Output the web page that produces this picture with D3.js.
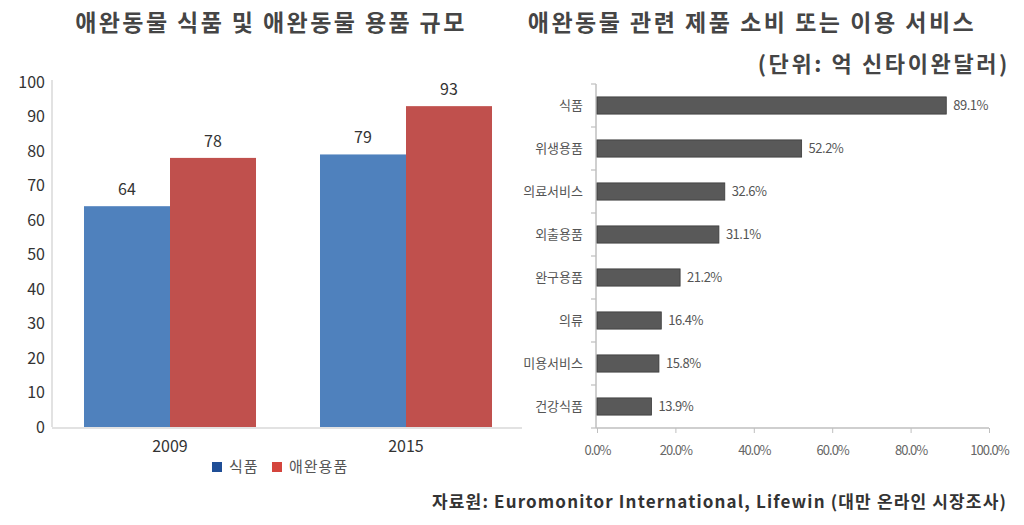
<!DOCTYPE html>
<html><head><meta charset="utf-8">
<script src="https://cdn.jsdelivr.net/npm/d3@7"></script>
<style>
html,body{margin:0;padding:0;background:#fff;}
svg{display:block;font-family:"Noto Sans CJK KR","Noto Sans",sans-serif;}
</style></head>
<body><svg id="c" width="1024" height="525"></svg>
<script>
// Left chart data
const years = ["2009", "2015"];
const seriesNames = ["식품", "애완용품"];
const foodValues = [64, 79];
const suppliesValues = [78, 93];
const leftTicks = [0, 10, 20, 30, 40, 50, 60, 70, 80, 90, 100];

// Right chart data
const categories = ["식품", "위생용품", "의료서비스", "외출용품", "완구용품", "의류", "미용서비스", "건강식품"];
const shares = [89.1, 52.2, 32.6, 31.1, 21.2, 16.4, 15.8, 13.9];
const rightTicks = [0, 20, 40, 60, 80, 100];

const titleLeft = "애완동물 식품 및 애완동물 용품 규모";
const titleRight = "애완동물 관련 제품 소비 또는 이용 서비스";
const unitText = "(단위: 억 신타이완달러)";
const sourceText = "자료원: Euromonitor International, Lifewin (대만 온라인 시장조사)";

const svg = d3.select("#c");
const colors = ["#4F81BD", "#C0504D"];
const legendColors = ["#1F4E96", "#D4453D"];

// Titles
svg.append("text").attr("x", 271).attr("y", 31).attr("text-anchor", "middle")
  .attr("font-size", 23).attr("letter-spacing", 2.4).attr("font-weight", "bold").attr("fill", "#454545").text(titleLeft);
svg.append("text").attr("x", 752).attr("y", 31).attr("text-anchor", "middle")
  .attr("font-size", 23).attr("letter-spacing", 2.5).attr("font-weight", "bold").attr("fill", "#454545").text(titleRight);
svg.append("text").attr("x", 1010).attr("y", 72).attr("text-anchor", "end")
  .attr("font-size", 22).attr("letter-spacing", 2.6).attr("font-weight", "bold").attr("fill", "#454545").text(unitText);
svg.append("text").attr("x", 1007).attr("y", 508).attr("text-anchor", "end")
  .attr("font-size", 17).attr("font-weight", "bold").attr("letter-spacing", 1.15)
  .attr("fill", "#333").text(sourceText);

// ---------- Left chart ----------
const y = d3.scaleLinear().domain([0, 100]).range([427, 82]);
const x0 = d3.scaleBand().domain(years).range([52, 524]).paddingInner(0).paddingOuter(0);
const x1 = d3.scaleBand().domain(seriesNames).range([0, x0.bandwidth()]).paddingInner(0).paddingOuter(0.372);

const gl = svg.append("g");
gl.append("line").attr("x1", 52).attr("x2", 52).attr("y1", 80).attr("y2", 427)
  .attr("stroke", "#d9d9d9").attr("stroke-width", 1.5);
gl.selectAll("text.yt").data(leftTicks).join("text").attr("class", "yt")
  .attr("x", 45).attr("y", d => y(d)).attr("dy", "0.35em").attr("text-anchor", "end")
  .attr("font-size", 16).attr("fill", "#333").text(d => d);

const rows = years.map((yr, i) => ({ yr, vals: [foodValues[i], suppliesValues[i]] }));
const grp = gl.selectAll("g.yr").data(rows).join("g").attr("transform", d => `translate(${x0(d.yr)},0)`);
grp.selectAll("rect").data(d => d.vals.map((v, j) => ({ v, s: seriesNames[j], j })))
  .join("rect")
  .attr("x", d => x1(d.s)).attr("width", x1.bandwidth())
  .attr("y", d => y(d.v)).attr("height", d => y(0) - y(d.v))
  .attr("fill", d => colors[d.j]);
grp.selectAll("text").data(d => d.vals.map((v, j) => ({ v, s: seriesNames[j] })))
  .join("text")
  .attr("x", d => x1(d.s) + x1.bandwidth() / 2).attr("y", d => y(d.v) - 17).attr("dy", "0.35em")
  .attr("text-anchor", "middle").attr("font-size", 16).attr("fill", "#333").text(d => d.v);

gl.append("line").attr("x1", 52).attr("x2", 522).attr("y1", 428).attr("y2", 428)
  .attr("stroke", "#d9d9d9").attr("stroke-width", 1.5);
gl.selectAll("text.xt").data(years).join("text").attr("class", "xt")
  .attr("x", d => x0(d) + x0.bandwidth() / 2).attr("y", 446).attr("dy", "0.35em")
  .attr("text-anchor", "middle").attr("font-size", 16).attr("fill", "#333").text(d => d);

// legend
const legX = [212, 272];
const lg = gl.selectAll("g.leg").data(seriesNames).join("g").attr("class", "leg")
  .attr("transform", (d, i) => `translate(${legX[i]},467)`);
lg.append("rect").attr("x", 0).attr("y", -5).attr("width", 10).attr("height", 10)
  .attr("fill", (d, i) => legendColors[i]);
lg.append("text").attr("x", 17).attr("y", 0).attr("dy", "0.35em")
  .attr("font-size", 15).attr("letter-spacing", 1).attr("fill", "#555").text(d => d);

// ---------- Right chart ----------
const xr = d3.scaleLinear().domain([0, 100]).range([597, 989]);
const yr = d3.scaleBand().domain(categories).range([84, 428]).paddingInner(0.6).paddingOuter(0.3);
const gr = svg.append("g");
const axisColor = "#bfbfbf";

const xAxis = d3.axisBottom(xr).tickValues(rightTicks).tickSize(5).tickFormat(d => d.toFixed(1) + "%");
const gx = gr.append("g").attr("transform", "translate(0,428)").call(xAxis);
gx.select(".domain").attr("stroke", axisColor).attr("stroke-width", 1.5).attr("d", "M596,0H989");
gx.selectAll(".tick line").attr("stroke", axisColor).attr("y1", 0).attr("y2", 5);
gx.selectAll(".tick text").attr("font-size", 13).attr("fill", "#666").attr("y", 18)
  .attr("font-family", "'Noto Sans CJK KR',sans-serif").attr("letter-spacing", "-1");

// y axis line with ticks at band boundaries
gr.append("line").attr("x1", 596).attr("x2", 596).attr("y1", 84).attr("y2", 428)
  .attr("stroke", axisColor).attr("stroke-width", 1.5);
const bounds = d3.range(categories.length + 1).map(i => 84 + i * yr.step());
gr.selectAll("line.yt").data(bounds).join("line").attr("class", "yt")
  .attr("x1", 591).attr("x2", 596).attr("y1", d => d).attr("y2", d => d)
  .attr("stroke", axisColor).attr("stroke-width", 1.2);

gr.selectAll("rect.hb").data(categories).join("rect").attr("class", "hb")
  .attr("x", xr(0)).attr("y", d => yr(d))
  .attr("width", (d, i) => xr(shares[i]) - xr(0)).attr("height", yr.bandwidth())
  .attr("fill", "#595959").attr("stroke", "#3a3a3a").attr("stroke-width", 0.8);
gr.selectAll("text.cl").data(categories).join("text").attr("class", "cl")
  .attr("x", 583).attr("y", d => yr(d) + yr.bandwidth() / 2).attr("dy", "0.35em")
  .attr("text-anchor", "end").attr("font-size", 13).attr("fill", "#555").text(d => d);
gr.selectAll("text.vl").data(categories).join("text").attr("class", "vl")
  .attr("x", (d, i) => xr(shares[i]) + 7).attr("y", d => yr(d) + yr.bandwidth() / 2).attr("dy", "0.35em")
  .attr("font-size", 13).attr("fill", "#555").attr("letter-spacing", "-0.5")
  .text((d, i) => shares[i].toFixed(1) + "%");
</script></body></html>
